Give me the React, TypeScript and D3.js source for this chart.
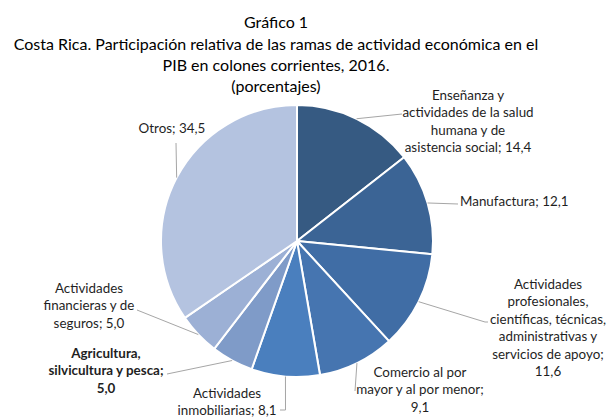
import React from "react";
import * as d3 from "d3";

const categories = [
  "Enseñanza y actividades de la salud humana y de asistencia social",
  "Manufactura",
  "Actividades profesionales, científicas, técnicas, administrativas y servicios de apoyo",
  "Comercio al por mayor y al por menor",
  "Actividades inmobiliarias",
  "Agricultura, silvicultura y pesca",
  "Actividades financieras y de seguros",
  "Otros",
];
const values = [14.4, 12.1, 11.6, 9.1, 8.1, 5.0, 5.0, 34.5];
const valueLabels = ["14,4", "12,1", "11,6", "9,1", "8.1", "5,0", "5,0", "34,5"];
const labelLines = [
  ["Enseñanza y", "actividades de la salud", "humana y de", "asistencia social; 14,4"],
  ["Manufactura; 12,1"],
  ["Actividades", "profesionales,", "científicas, técnicas,", "administrativas y", "servicios de apoyo;", "11,6"],
  ["Comercio al por", "mayor y al por menor;", "9,1"],
  ["Actividades", "inmobiliarias; 8,1"],
  ["Agricultura,", "silvicultura y pesca;", "5,0"],
  ["Actividades", "financieras y de", "seguros; 5,0"],
  ["Otros; 34,5"],
];
const titleLines = [
  "Gráfico 1",
  "Costa Rica.  Participación relativa de las ramas de actividad económica en el",
  "PIB en colones corrientes, 2016.",
  "(porcentajes)",
];

const colors = ["#365A82", "#3B6495", "#406DA5", "#4675B0", "#4A7FBE", "#7F9BC8", "#9CB0D5", "#B4C3E0"];

// label layout: text anchor point, first line center y, leader polyline end points
const labelLayout = [
  { x: 468, y: 95, anchor: "middle", bold: false, leader: [[402, 114]] },
  { x: 460, y: 201, anchor: "start", bold: false, leader: [[458, 204]] },
  { x: 548, y: 284, anchor: "middle", bold: false, leader: [[485, 322], [488, 322]] },
  { x: 420, y: 372, anchor: "middle", bold: false, leader: [[355, 391]] },
  { x: 227, y: 393, anchor: "middle", bold: false, leader: [[285.5, 410], [280, 410]] },
  { x: 106, y: 353, anchor: "middle", bold: true, leader: [[167, 374]] },
  { x: 89, y: 288, anchor: "middle", bold: false, leader: [[137, 310]] },
  { x: 172, y: 128, anchor: "middle", bold: false, leader: [[176, 143]] },
];

const W = 606;
const H = 417;
const cx = 297;
const cy = 241;
const R = 136;
const lineH = 17.5;
const FONT = "Lato, 'Open Sans', sans-serif";

export default function App() {
  const pie = d3.pie<number>().sort(null).value((d) => d)(values);
  const arc = d3.arc<d3.PieArcDatum<number>>().innerRadius(0).outerRadius(R);
  const titleY = [22, 44, 65, 86];

  return (
    <svg
      width={W}
      height={H}
      style={{ position: "absolute", left: 0, top: 0, display: "block", background: "#fff" }}
      fontFamily={FONT}
    >
      <rect x={0} y={0} width={W} height={H} fill="#fff" />
      {titleLines.map((t, i) => (
        <text
          key={i}
          x={276}
          y={titleY[i]}
          dy="0.35em"
          textAnchor="middle"
          fontSize={16}
          fill="#000"
        >
          {t}
        </text>
      ))}
      <g transform={`translate(${cx},${cy})`}>
        {pie.map((p, i) => (
          <path key={i} d={arc(p) || ""} fill={colors[i]} stroke="#fff" strokeWidth={2} strokeLinejoin="round" />
        ))}
      </g>
      {pie.map((p, i) => {
        const mid = (p.startAngle + p.endAngle) / 2;
        const sx = cx + R * Math.sin(mid);
        const sy = cy - R * Math.cos(mid);
        const L = labelLayout[i];
        const pts = [[sx, sy], ...L.leader];
        return (
          <polyline
            key={"l" + i}
            points={pts.map((q) => q.join(",")).join(" ")}
            fill="none"
            stroke="#A6A6A6"
            strokeWidth={1}
          />
        );
      })}
      {labelLines.map((lines, i) => {
        const L = labelLayout[i];
        return (
          <text
            key={"t" + i}
            textAnchor={L.anchor as any}
            fontSize={13.4}
            fontWeight={L.bold ? 700 : 400}
            fill="#1f1f1f"
            aria-label={categories[i] + "; " + valueLabels[i]}
          >
            {lines.map((ln, j) => (
              <tspan key={j} x={L.x} y={L.y + j * lineH} dy="0.35em">
                {ln}
              </tspan>
            ))}
          </text>
        );
      })}
    </svg>
  );
}
